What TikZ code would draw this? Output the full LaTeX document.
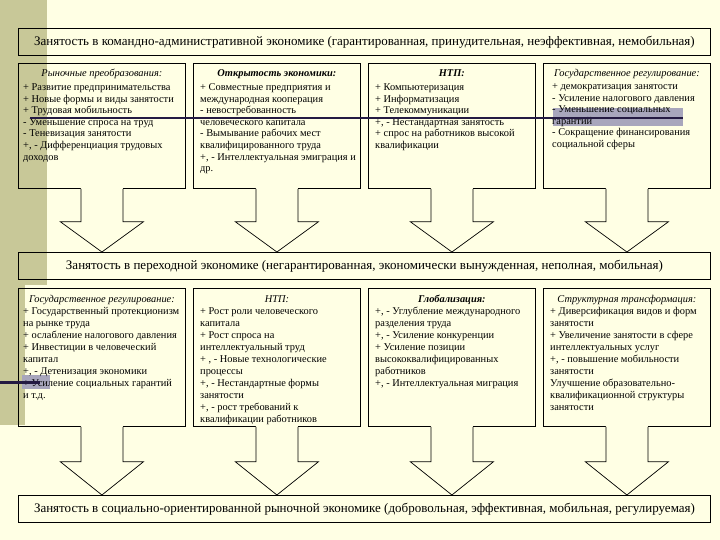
\documentclass[tikz,border=0pt]{standalone}
\usepackage{fontspec}
\setmainfont{Liberation Serif}
\usetikzlibrary{calc}
\definecolor{bg}{RGB}{255,255,228}
\definecolor{khaki}{RGB}{200,200,152}
\definecolor{navy}{RGB}{36,26,66}
\definecolor{band}{RGB}{168,166,188}
\newcommand{\blockarr}[3]{%
  \fill[bg] ($(#1.south)+(-21,-1)$) -- ($(#1.south)+(-21,#3)$) -- ($(#1.south)+(-41.5,#3)$) -- (#1.south |- #2.north) -- ($(#1.south)+(41.5,#3)$) -- ($(#1.south)+(21,#3)$) -- ($(#1.south)+(21,-1)$) -- cycle;
  \draw[arrowline] ($(#1.south)+(-21,0)$) -- ($(#1.south)+(-21,#3)$) -- ($(#1.south)+(-41.5,#3)$) -- (#1.south |- #2.north) -- ($(#1.south)+(41.5,#3)$) -- ($(#1.south)+(21,#3)$) -- ($(#1.south)+(21,0)$);
}
\begin{document}
\begin{tikzpicture}[x=1pt,y=-1pt,
  box/.style={draw=black, line width=0.8pt, anchor=north west, inner sep=0pt, minimum width=167pt},
  banner/.style={draw=black, line width=1pt, anchor=north west, inner sep=0pt, minimum width=692pt, minimum height=27pt, font=\fontsize{13}{15}\selectfont},
  ttl/.style={anchor=base, inner sep=0pt, font=\fontsize{10.4}{12}\selectfont},
  body/.style={anchor=north west, inner sep=0pt, align=left, font=\fontsize{10.4}{11.6}\selectfont, execute at begin node={\rule{0pt}{8pt}}},
  bodyb/.style={body, font=\fontsize{10.4}{12}\selectfont},
  arrowline/.style={draw=black, line width=0.7pt, line join=miter},
]
\useasboundingbox (0,0) rectangle (720,540);
\fill[bg] (0,0) rectangle (720,540);
\fill[khaki] (0,0) rectangle (47,285);
\fill[khaki] (0,285) rectangle (25,425);

% banners
\node[banner] (top) at (18,28) {Занятость в командно-административной экономике (гарантированная, принудительная, неэффективная, немобильная)};
\node[banner] (mid) at (18,252) {Занятость в переходной экономике (негарантированная, экономически вынужденная, неполная, мобильная)};
\node[banner] (bot) at (18,495) {Занятость в социально-ориентированной рыночной экономике (добровольная, эффективная, мобильная, регулируемая)};

% row 1 boxes
\node[box, minimum height=125pt] (a1) at (18,63) {};
\node[box, minimum height=125pt] (a2) at (193,63) {};
\node[box, minimum height=125pt] (a3) at (368,63) {};
\node[box, minimum height=125pt] (a4) at (543,63) {};

% row 2 boxes
\node[box, minimum height=138pt] (b1) at (18,288) {};
\node[box, minimum height=138pt] (b2) at (193,288) {};
\node[box, minimum height=138pt] (b3) at (368,288) {};
\node[box, minimum height=138pt] (b4) at (543,288) {};

% arrows
\blockarr{a1}{mid}{33}
\blockarr{a2}{mid}{33}
\blockarr{a3}{mid}{33}
\blockarr{a4}{mid}{33}
\blockarr{b1}{bot}{35}
\blockarr{b2}{bot}{35}
\blockarr{b3}{bot}{35}
\blockarr{b4}{bot}{35}

% decorative band (behind text)
\fill[band] (553,108) rectangle (683,126);
\fill[band] (22,375) rectangle (50,389);

% row 1 texts
\node[ttl] (a1h) at (a1.north |- 0,77) {\itshape Рыночные преобразования:};
\node[body] (a1b) at (23,83.5) {+ Развитие предпринимательства\\+ Новые формы и виды занятости\\+ Трудовая мобильность\\- Уменьшение спроса на труд\\- Теневизация занятости\\+, - Дифференциация трудовых\\доходов};

\node[ttl] (a2h) at (a2.north |- 0,77) {\bfseries\itshape Открытость экономики:};
\node[body] (a2b) at (200,83.5) {+ Совместные предприятия и\\международная кооперация\\- невостребованность\\человеческого капитала\\- Вымывание рабочих мест\\квалифицированного труда\\+, - Интеллектуальная эмиграция и\\др.};

\node[ttl] (a3h) at (a3.north |- 0,77) {\bfseries\itshape НТП:};
\node[body] (a3b) at (375,83.5) {+ Компьютеризация\\+ Информатизация\\+ Телекоммуникации\\+, - Нестандартная занятость\\+ спрос на работников высокой\\квалификации};

\node[ttl] (a4h) at (a4.north |- 0,77) {\itshape Государственное регулирование:};
\node[body] (a4b) at (552,83.5) {+ демократизация занятости\\- Усиление налогового давления\\- Уменьшение социальных\\гарантий\\- Сокращение финансирования\\социальной сферы};

% row 2 texts
\node[ttl] (b1h) at (b1.north |- 0,302) {\itshape Государственное регулирование:};
\node[bodyb] (b1b) at (23,307) {+ Государственный протекционизм\\на рынке труда\\+ ослабление налогового давления\\+ Инвестиции в человеческий\\капитал\\+, - Детенизация экономики\\+ Усиление социальных гарантий\\и т.д.};

\node[ttl] (b2h) at (b2.north |- 0,302) {\itshape НТП:};
\node[bodyb] (b2b) at (200,307) {+ Рост роли человеческого\\капитала\\+ Рост спроса на\\интеллектуальный труд\\+ , - Новые технологические\\процессы\\+, - Нестандартные формы\\занятости\\+, - рост требований к\\квалификации работников};

\node[ttl] (b3h) at (b3.north |- 0,302) {\bfseries\itshape Глобализация:};
\node[bodyb] (b3b) at (375,307) {+, - Углубление международного\\разделения труда\\+, - Усиление конкуренции\\+ Усиление позиции\\высококвалифицированных\\работников\\+, - Интеллектуальная миграция};

\node[ttl] (b4h) at (b4.north |- 0,302) {\itshape Структурная трансформация:};
\node[bodyb] (b4b) at (550,307) {+ Диверсификация видов и форм\\занятости\\+ Увеличение занятости в сфере\\интеллектуальных услуг\\+, - повышение мобильности\\занятости\\Улучшение образовательно-\\квалификационной структуры\\занятости};

% decorative lines (on top)
\draw[navy, line width=2pt] (30,118) -- (683,118);
\draw[navy, line width=3pt] (0,382) -- (40,382);
\end{tikzpicture}
\end{document}
